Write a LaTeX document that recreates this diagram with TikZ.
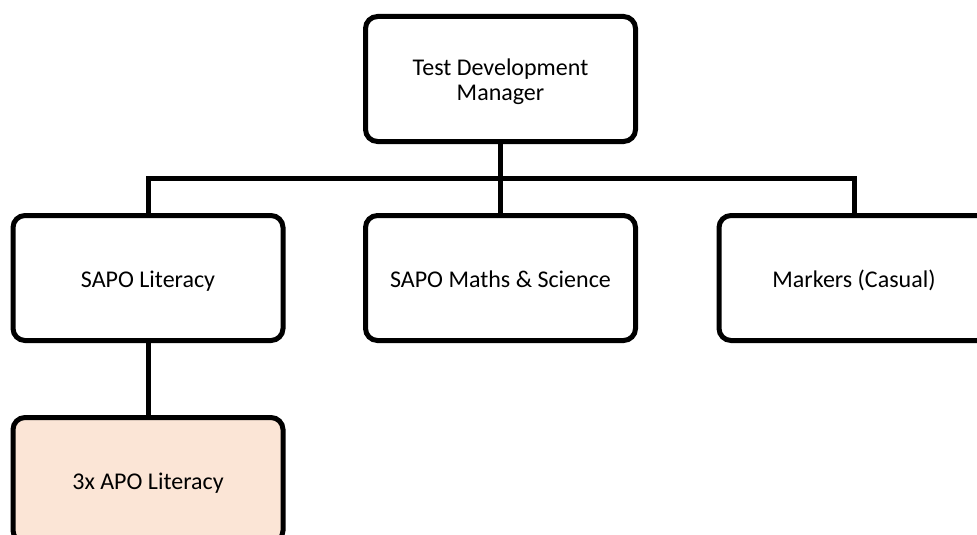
\documentclass[tikz,border=0pt]{standalone}
\usepackage{fontspec}
\setmainfont{Carlito}
\definecolor{peach}{HTML}{FBE5D6}
\begin{document}
\begin{tikzpicture}[x=1pt,y=-1pt,
  box/.style={draw, line width=5pt, rounded corners=12pt, minimum width=270pt, minimum height=125pt, align=center, inner sep=0pt, font=\fontsize{24}{25}\selectfont, fill=white},
  oneline/.style={text height=18.4pt, text depth=0pt},
  conn/.style={line width=5pt}]
\useasboundingbox (0,0) rectangle (977,535);
\node[box] (tdm) at (500.5,79) {\rule{0pt}{21.2pt}Test Development\\Manager};
\node[box, oneline] (lit) at (148,278) {SAPO Literacy};
\node[box, oneline] (mat) at (500.5,278) {SAPO Maths \& Science};
\node[box, oneline] (mrk) at (854,278) {Markers (Casual)};
\node[box, oneline, fill=peach] (apo) at (148,480) {3x APO Literacy};
\coordinate (bus) at (500.5,178);
\draw[conn] (lit.north) |- (bus) -| (mrk.north);
\draw[conn] (tdm.south) -- (mat.north);
\draw[conn] (lit.south) -- (apo.north);
\end{tikzpicture}
\end{document}
